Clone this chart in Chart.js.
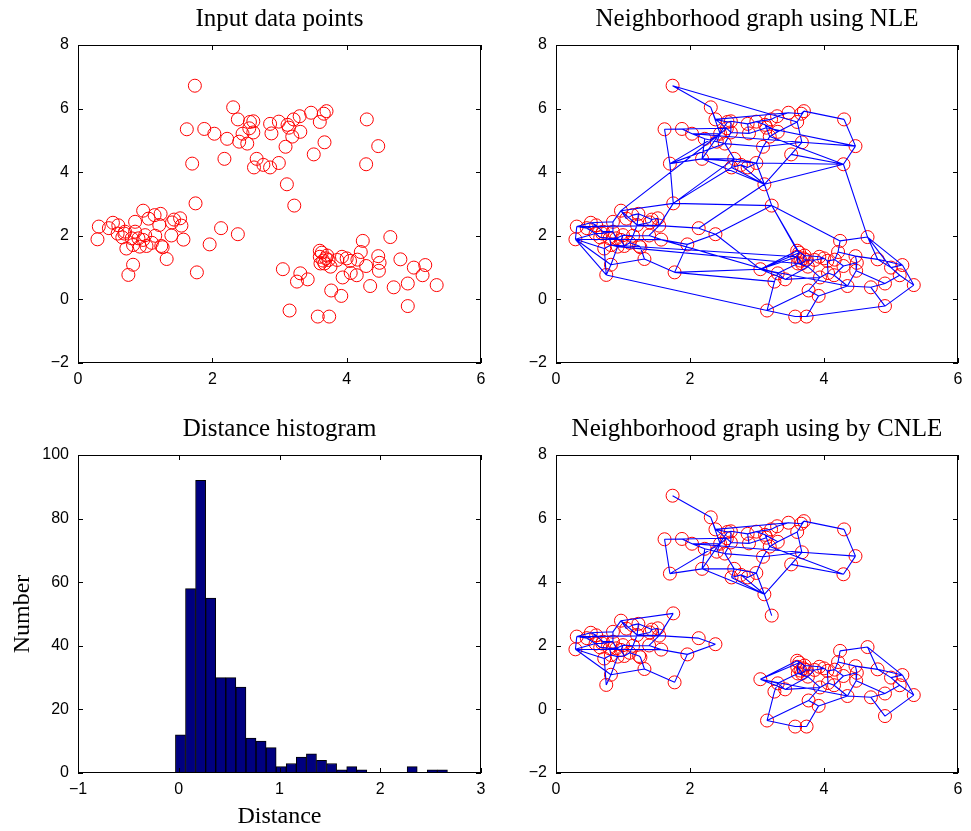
<!DOCTYPE html>
<html>
<head>
<meta charset="utf-8">
<title>Neighborhood graphs</title>
<script src="https://cdn.jsdelivr.net/npm/chart.js@4.4.1/dist/chart.umd.min.js"></script>
<style>
  html, body { margin: 0; padding: 0; background: #fff; }
  #page { position: relative; width: 971px; height: 831px; }
  #page canvas { position: absolute; left: 0; top: 0; }
</style>
</head>
<body>
<div id="page">
  <canvas id="inputChart" width="971" height="831"></canvas>
  <canvas id="nleChart" width="971" height="831"></canvas>
  <canvas id="histChart" width="971" height="831"></canvas>
  <canvas id="cnleChart" width="971" height="831"></canvas>
</div>
<script>
// input points: upper group 0-41, left group 42-83, right group 84-126
const pointsX = [
  1.74, 2.31, 2.38, 1.62, 1.88, 2.03, 2.22, 2.40, 2.52, 2.45,
  2.56, 2.61, 2.55, 2.61, 2.86, 2.88, 2.99, 3.12, 3.14, 3.21,
  3.30, 3.19, 3.31, 3.47, 3.60, 3.66, 3.70, 3.09, 3.67, 3.51,
  4.30, 4.47, 4.29, 1.70, 2.18, 2.66, 2.62, 2.76, 2.86, 2.99,
  3.11, 3.22,
  1.75, 0.31, 0.29, 0.52, 0.60, 0.46, 0.59, 0.69, 0.85, 0.97,
  1.05, 1.14, 1.23, 1.21, 0.85, 0.90, 0.80, 0.97, 1.02, 0.72,
  0.82, 0.92, 1.15, 1.24, 1.26, 1.32, 1.39, 1.43, 1.52, 1.54,
  1.57, 0.82, 0.75, 1.77, 0.70, 1.96, 2.13, 2.38, 0.66, 1.00,
  1.40, 1.10,
  3.05, 3.31, 3.26, 3.42, 3.15, 3.57, 3.74, 3.77, 3.92, 3.94,
  3.60, 3.63, 3.93, 4.05, 4.06, 4.15, 4.16, 4.21, 4.24, 4.29,
  4.35, 4.47, 4.49, 4.48, 4.65, 4.70, 4.80, 4.91, 4.91, 5.00,
  5.13, 5.17, 5.34, 3.60, 3.61, 3.67, 3.73, 3.76, 3.69, 3.71,
  3.65, 3.86, 4.00
];
const pointsY = [
  6.72, 6.04, 5.66, 5.35, 5.36, 5.21, 5.05, 4.96, 4.90, 5.21,
  5.58, 5.60, 5.38, 5.25, 5.52, 5.22, 5.59, 5.49, 5.40, 5.66,
  5.76, 5.12, 5.27, 5.87, 5.58, 5.84, 5.92, 4.80, 4.94, 4.56,
  5.66, 4.82, 4.25, 4.27, 4.42, 4.42, 4.15, 4.23, 4.15, 4.29,
  3.62, 2.95,
  3.02, 2.29, 1.89, 2.41, 2.33, 2.24, 2.07, 2.07, 2.44, 2.79,
  2.54, 2.65, 2.69, 2.34, 2.13, 1.92, 1.92, 1.87, 1.68, 1.60,
  1.71, 1.66, 2.00, 1.68, 1.64, 1.27, 2.01, 2.51, 2.55, 2.32,
  1.88, 1.09, 0.77, 0.85, 2.13, 1.73, 2.24, 2.05, 1.95, 2.02,
  2.42, 1.78,
  0.95, 0.82, 0.56, 0.63, -0.35, -0.54, -0.54, 0.28, 0.11, 0.69,
  1.53, 1.47, 1.34, 1.21, 0.83, 0.76, 1.25, 1.49, 1.84, 1.05,
  0.42, 1.36, 1.15, 0.90, 1.96, 0.38, 1.26, -0.21, 0.50, 1.00,
  0.76, 1.08, 0.45, 1.34, 1.13, 1.13, 1.24, 1.03, 1.29, 1.38,
  1.22, 1.24, 1.29
];

// edges inside the three groups (shared by both graphs)
const groupEdges = [
  [0,1],[1,2],[1,9],[2,10],[2,12],[3,4],[3,33],[4,5],[4,12],[5,6],[5,9],[6,7],[6,34],
  [7,8],[7,9],[8,13],[8,35],[9,12],[10,11],[11,13],[11,14],[12,13],[13,15],[14,16],
  [14,15],[15,18],[16,17],[16,19],[17,18],[17,22],[18,21],[19,20],[20,23],[21,22],
  [21,27],[22,24],[23,25],[24,26],[25,26],[24,28],[26,30],[28,31],[30,31],[31,32],
  [32,29],[29,28],[27,39],[27,28],[33,34],[34,35],[35,36],[36,37],[37,38],[38,39],
  [39,40],[37,40],[40,41],[40,28],[33,9],[34,10],[21,32],[5,28],[2,23],[3,12],
  [36,40],[34,40],[8,27],[35,39],
  [42,51],[42,71],[43,45],[43,44],[43,47],[44,48],[44,61],[44,73],[45,46],[45,50],
  [46,47],[46,76],[47,48],[48,49],[48,80],[49,76],[49,56],[50,51],[50,56],[51,52],
  [51,55],[52,53],[53,54],[54,55],[54,69],[55,64],[55,71],[56,57],[57,58],[57,59],
  [58,80],[58,62],[59,81],[59,60],[60,63],[60,83],[61,62],[61,74],[62,63],[63,73],
  [64,81],[64,68],[64,83],[65,66],[65,83],[66,67],[67,73],[67,75],[68,71],[68,72],
  [69,70],[69,82],[70,71],[71,78],[72,77],[75,77],[77,79],[78,79],[73,74],[76,56],
  [82,55],[81,57],[43,71],[44,72],
  [84,85],[84,95],[84,87],[85,86],[85,87],[86,88],[87,93],[88,89],[88,91],[89,90],
  [90,92],[91,92],[91,93],[92,104],[93,98],[93,121],[94,95],[94,123],[95,117],
  [96,126],[96,123],[97,100],[97,126],[97,98],[98,99],[99,103],[99,104],[100,101],
  [100,103],[101,102],[101,105],[102,108],[103,106],[104,107],[104,109],[105,106],
  [105,110],[106,107],[107,112],[108,110],[108,115],[109,112],[109,111],[110,113],
  [110,115],[111,116],[112,114],[113,114],[113,115],[114,116],[115,116],[117,118],
  [117,124],[118,119],[118,121],[119,120],[119,124],[120,122],[120,125],[121,125],
  [122,123],[125,126],[85,118],[84,104],[87,121],[84,94]
];

// extra long links that only the NLE graph keeps
const nleBridgeEdges = [
  [0,24],[33,42],[41,42],[51,9],[42,36],[78,40],[41,79],[41,102],[41,94],[41,95],
  [79,84],[40,32],[32,39],[32,108],[31,18],[75,84],[74,88],[90,111],[62,117],[34,39],
  [33,8],[44,74],[72,85],[63,118],[108,113],[42,35],[84,117],[75,86]
];

// pairwise distance histogram
const histCenters = [
  0.017, 0.117, 0.217, 0.317, 0.417, 0.517, 0.617, 0.717, 0.817, 0.917,
  1.017, 1.117, 1.217, 1.317, 1.417, 1.517, 1.617, 1.717, 1.817, 1.917,
  2.017, 2.117, 2.217, 2.317, 2.417, 2.517, 2.617
];
const histCounts = [
  12, 58, 92, 55, 30, 30, 27, 11, 10, 8,
  2, 3, 5, 6, 4, 3, 1, 2, 1, 0,
  0, 0, 0, 2, 0, 1, 1
];

const tickFont = { family: '"Liberation Sans", Arial, sans-serif', size: 16 };
const serif = '"Liberation Serif", "Times New Roman", serif';

function minusSign(v) {
  return v < 0 ? '\u2212' + Math.abs(v) : String(v);
}

// box around the axes with inward tick marks on all four sides, plus the title
const framePlugin = {
  id: 'frame',
  afterDraw(chart, args, opts) {
    const { ctx, chartArea: a, scales } = chart;
    ctx.save();
    ctx.strokeStyle = '#000';
    ctx.lineWidth = 1;
    ctx.strokeRect(a.left + 0.5, a.top + 0.5, a.right - a.left - 1, a.bottom - a.top - 1);
    ctx.beginPath();
    scales.x.ticks.forEach(t => {
      const px = Math.round(scales.x.getPixelForValue(t.value)) + 0.5;
      ctx.moveTo(px, a.bottom); ctx.lineTo(px, a.bottom - 5);
      ctx.moveTo(px, a.top); ctx.lineTo(px, a.top + 5);
    });
    scales.y.ticks.forEach(t => {
      const py = Math.round(scales.y.getPixelForValue(t.value)) + 0.5;
      ctx.moveTo(a.left, py); ctx.lineTo(a.left + 5, py);
      ctx.moveTo(a.right, py); ctx.lineTo(a.right - 5, py);
    });
    ctx.stroke();
    if (opts.text) {
      ctx.fillStyle = '#000';
      ctx.font = '25px ' + serif;
      ctx.textAlign = 'center';
      ctx.textBaseline = 'alphabetic';
      ctx.fillText(opts.text, (a.left + a.right) / 2, a.top - 19);
    }
    ctx.restore();
  }
};

function linearAxis(min, max, step, isX, fitSize, title) {
  const axis = {
    type: 'linear', min, max,
    offset: false,
    grid: { display: false, drawTicks: false },
    border: { display: false },
    ticks: { stepSize: step, color: '#000', font: tickFont, padding: isX ? 7 : 9, callback: minusSign },
    afterFit: s => { if (isX) s.height = fitSize; else s.width = fitSize; }
  };
  if (title) {
    axis.title = { display: true, text: title, color: '#000', font: { family: serif, size: 24 }, padding: 0 };
  }
  return axis;
}

function pointData() {
  return pointsX.map((x, i) => ({ x, y: pointsY[i] }));
}

function edgeData(edges) {
  const out = [];
  edges.forEach(([a, b]) => {
    out.push({ x: pointsX[a], y: pointsY[a] }, { x: pointsX[b], y: pointsY[b] }, { x: null, y: null });
  });
  return out;
}

function scatterPanel(id, title, padding, edges) {
  const datasets = [{
    type: 'scatter',
    data: pointData(),
    borderColor: '#ff0000',
    backgroundColor: 'rgba(0,0,0,0)',
    pointRadius: 6.5,
    pointBorderWidth: 1,
    order: 1
  }];
  if (edges) {
    datasets.push({
      type: 'line',
      data: edgeData(edges),
      borderColor: '#0000ff',
      borderWidth: 1.1,
      pointRadius: 0,
      spanGaps: false,
      fill: false,
      order: 0
    });
  }
  return new Chart(document.getElementById(id), {
    type: 'scatter',
    data: { datasets },
    options: {
      responsive: false,
      animation: false,
      layout: { padding },
      scales: {
        x: linearAxis(0, 6, 2, true, 30),
        y: linearAxis(-2, 8, 2, false, 40)
      },
      plugins: { legend: { display: false }, tooltip: { enabled: false }, frame: { text: title } }
    },
    plugins: [framePlugin]
  });
}

scatterPanel('inputChart', 'Input data points',
  { left: 38, right: 490, top: 45, bottom: 438 }, null);

scatterPanel('nleChart', 'Neighborhood graph using NLE',
  { left: 516, right: 13, top: 45, bottom: 438 }, groupEdges.concat(nleBridgeEdges));

scatterPanel('cnleChart', 'Neighborhood graph using by CNLE',
  { left: 516, right: 13, top: 455, bottom: 28 }, groupEdges);

new Chart(document.getElementById('histChart'), {
  type: 'bar',
  data: {
    datasets: [{
      data: histCenters.map((x, i) => ({ x, y: histCounts[i] })),
      backgroundColor: '#000080',
      borderColor: '#000000',
      borderWidth: 1,
      borderSkipped: false,
      barPercentage: 1,
      categoryPercentage: 1
    }]
  },
  options: {
    responsive: false,
    animation: false,
    layout: { padding: { left: 8, right: 490, top: 455, bottom: 0 } },
    scales: {
      x: linearAxis(-1, 3, 1, true, 58, 'Distance'),
      y: linearAxis(0, 100, 20, false, 70, 'Number')
    },
    plugins: { legend: { display: false }, tooltip: { enabled: false }, frame: { text: 'Distance histogram' } }
  },
  plugins: [framePlugin]
});
</script>
</body>
</html>
